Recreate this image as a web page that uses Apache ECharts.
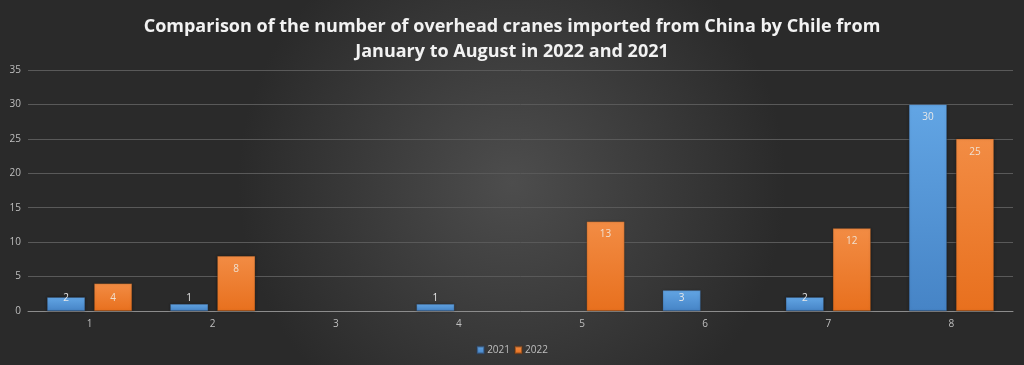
<!DOCTYPE html>
<html>
<head>
<meta charset="utf-8">
<script src="https://cdn.jsdelivr.net/npm/echarts@6/dist/echarts.min.js"></script>
<style>
html,body{margin:0;padding:0;}
#c{width:1024px;height:365px;}
</style>
</head>
<body>
<div id="c"></div>
<script>
var titleText = 'Comparison of the number of overhead cranes imported from China by Chile from\nJanuary to August in 2022 and 2021';
var categories = ['1','2','3','4','5','6','7','8'];
var seriesNames = ['2021','2022'];
var values2021 = [2, 1, null, 1, null, 3, 2, 30];
var values2022 = [4, 8, null, null, 13, null, 12, 25];
var yTicks = {min: 0, max: 35, interval: 5};

function toData(arr){
  return arr.map(function(v){
    if (v === null) return null;
    if (v <= 4) {
      return {value: v, label: {position: 'insideBottom', distance: 8}};
    }
    return {value: v, label: {position: 'insideTop', distance: 8}};
  });
}

var chart = echarts.init(document.getElementById('c'), null, {renderer: 'canvas'});
var blueGrad = new echarts.graphic.LinearGradient(0,0,0,1,[{offset:0,color:'#62a5e4'},{offset:1,color:'#4684c6'}]);
var orangeGrad = new echarts.graphic.LinearGradient(0,0,0,1,[{offset:0,color:'#f28c44'},{offset:1,color:'#e8701e'}]);
chart.setOption({
  backgroundColor: new echarts.graphic.RadialGradient(0.5,0.5,0.75,[{offset:0,color:'#4d4d4d'},{offset:1,color:'#2a2a2a'}]),
  animation: false,
  title: {
    text: titleText,
    left: 'center',
    top: 9,
    textStyle: {color: '#f2f2f2', fontSize: 18, fontWeight: 'bold', fontFamily: 'Open Sans', lineHeight: 25}
  },
  legend: {
    data: seriesNames,
    bottom: 5,
    left: 'center',
    itemWidth: 7,
    itemHeight: 7,
    itemGap: 4,
    icon: 'rect',
    textStyle: {color: '#bfbfbf', fontSize: 10, fontFamily: 'Open Sans', padding: [0, 0, 0, -2]}
  },
  grid: {left: 28, right: 11, top: 70, bottom: 54, containLabel: false},
  xAxis: {
    type: 'category',
    data: categories,
    axisLine: {lineStyle: {color: '#8c8c8c', width: 1}},
    axisTick: {show: false},
    axisLabel: {color: '#bfbfbf', fontSize: 10, fontFamily: 'Open Sans', margin: 8}
  },
  yAxis: {
    type: 'value',
    min: yTicks.min, max: yTicks.max, interval: yTicks.interval,
    axisLine: {show: false},
    axisTick: {show: false},
    axisLabel: {color: '#bfbfbf', fontSize: 10, fontFamily: 'Open Sans', margin: 7},
    splitLine: {lineStyle: {color: '#595959', width: 1}}
  },
  series: [
    {
      name: seriesNames[0], type: 'bar', data: toData(values2021),
      barCategoryGap: '31%', barGap: '24%',
      itemStyle: {color: blueGrad, borderColor: 'rgba(40,60,90,0.5)', borderWidth: 0.5, shadowColor: 'rgba(0,0,0,0.35)', shadowBlur: 3},
      label: {show: true, fontSize: 10, fontFamily: 'Open Sans', color: '#e8e8e8'}
    },
    {
      name: seriesNames[1], type: 'bar', data: toData(values2022),
      barCategoryGap: '31%', barGap: '24%',
      itemStyle: {color: orangeGrad, borderColor: 'rgba(90,50,20,0.5)', borderWidth: 0.5, shadowColor: 'rgba(0,0,0,0.35)', shadowBlur: 3},
      label: {show: true, fontSize: 10, fontFamily: 'Open Sans', color: '#f0e0d0'}
    }
  ]
});
</script>
</body>
</html>
